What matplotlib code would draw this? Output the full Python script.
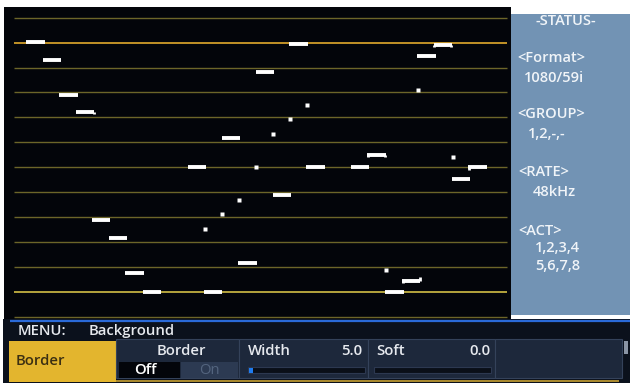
import numpy as np
import matplotlib.pyplot as plt
from matplotlib.patches import Rectangle

plt.rcParams['font.family'] = ['Open Sans', 'DejaVu Sans']

# scope trace: horizontal dashes (centre time, level) and single dots
dash_t = [1.31, 2.31, 3.32, 4.33, 5.29, 6.31, 7.34, 8.38, 11.13, 12.11, 13.19, 14.21,
          15.26, 16.30, 17.32, 18.34, 21.07, 22.05, 23.15, 24.17, 25.10, 26.09, 27.19, 28.21]
dash_lvl = [11.01, 10.29, 8.91, 8.20, 3.88, 3.16, 1.74, 1.00, 6.01, 0.98, 7.17, 2.15,
            9.83, 4.87, 10.94, 6.01, 6.00, 6.50, 0.98, 1.43, 10.46, 10.91, 5.54, 6.00]
# little end ticks on some dashes (level offset at left / right end)
tick_left = [0, 0, 0, 0, 0, 0, 0, 0, 0, 0, 0, 0,
             0, 0, 0, 0, 0, -0.1, 0, -0.09, 0, -0.1, 0, -0.11]
tick_right = [0, 0, 0, -0.08, 0, 0, 0, 0, 0, 0, 0, 0,
              0, 0, 0, 0, 0, -0.1, 0, 0.15, 0, -0.1, 0, 0]
dash_w = 1.12

dot_t = [11.60, 12.66, 13.69, 14.74, 15.78, 16.81, 17.83, 22.62, 24.58, 26.70]
dot_lvl = [3.52, 4.11, 4.67, 6.01, 7.34, 7.93, 8.48, 1.86, 9.10, 6.40]

grid_lvl = np.arange(13)
bright = {11: '#e2aa2c', 1: '#d2bf45'}

status_lines = ["-STATUS-", "<Format>", "1080/59i", "<GROUP>", "1,2,-,-",
                "<RATE>", "48kHz", "<ACT>", "1,2,3,4", "5,6,7,8"]
status_x = [536, 517, 524, 517, 528, 518, 533, 518, 535, 535]
status_y = [21, 58, 78, 114, 134, 172, 192, 231, 248, 266]

W, H = 630, 383
fig = plt.figure(figsize=(6.3, 3.83), dpi=100, facecolor='white')


def px_axes(x0, y0, x1, y1):
    return fig.add_axes([x0 / W, 1 - y1 / H, (x1 - x0) / W, (y1 - y0) / H])


def bare(a):
    a.set_xticks([])
    a.set_yticks([])
    for s in a.spines.values():
        s.set_visible(False)


# scope area
ax = px_axes(4, 7, 511, 319)
ax.set_facecolor('#03050a')
for lv in grid_lvl:
    ax.hlines(lv, 0, 30, color=bright.get(lv, '#6c6529'), lw=1.2 if lv in bright else 1.0)
t = np.array(dash_t)
lv = np.array(dash_lvl)
ax.hlines(lv, t - dash_w / 2, t + dash_w / 2, color='white', lw=2.8)
for ti, li, tl, tr in zip(t, lv, tick_left, tick_right):
    if tl:
        ax.vlines(ti - dash_w / 2 + 0.05, li + tl, li, color='white', lw=2.0)
    if tr:
        ax.vlines(ti + dash_w / 2 - 0.05, li + tr, li, color='white', lw=2.0)
ax.plot(dot_t, dot_lvl, 's', ms=3.0, color='white', mec='none')
ax.set_xlim(-0.609, 30.24)
ax.set_ylim(-0.092, 12.43)
bare(ax)

# status panel
sa = px_axes(511, 14, 630, 315)
sa.set_facecolor('#7293b4')
sa.set_xlim(511, 630)
sa.set_ylim(315, 14)
bare(sa)
for txt, x, y in zip(status_lines, status_x, status_y):
    sa.text(x, y, txt, color='#f0f4f8', fontsize=10.5, va='center', ha='left', weight='semibold')

# menu strip
ma = px_axes(3, 319, 630, 383)
ma.set_facecolor('#0b111c')
ma.set_xlim(3, 630)
ma.set_ylim(383, 319)
bare(ma)
txt_kw = dict(color='#e6e9ee', fontsize=10.7, va='center', weight='semibold')
ma.hlines(320.5, 10, 630, color='#2a6ad8', lw=1.6)
ma.text(18, 331, "MENU:", **txt_kw)
ma.text(89, 331, "Background", **txt_kw)
ma.add_patch(Rectangle((9, 341), 107, 41, fc='#e3b52e', ec='none'))
ma.text(16, 361, "Border", color='#3b2f12', fontsize=10.7, va='center', weight='semibold')
sections = [116, 239, 367.6, 495, 622]
for x0, x1 in zip(sections[:-1], sections[1:]):
    ma.add_patch(Rectangle((x0, 339), x1 - x0, 39, fc='#1d283b', ec='#34425a', lw=0.8))
ma.text(181, 351, "Border", ha='center', **txt_kw)
ma.add_patch(Rectangle((119, 362), 61, 16, fc='#03050a', ec='none'))
ma.text(145, 370, "Off", ha='center', **dict(txt_kw, color='white'))
ma.add_patch(Rectangle((181, 362), 57, 16, fc='#2c3a52', ec='none'))
ma.text(209.5, 370, "On", color='#53647e', fontsize=10.7, va='center', ha='center')
ma.text(248, 351, "Width", **txt_kw)
ma.text(362, 351, "5.0", ha='right', **txt_kw)
ma.text(376, 351, "Soft", **txt_kw)
ma.text(491, 351, "0.0", ha='right', **txt_kw)
for x0 in (248, 374):
    ma.add_patch(Rectangle((x0, 367), 117, 6, fc='#0a0f18', ec='#2c3850', lw=0.8))
ma.add_patch(Rectangle((249, 367.5), 4, 5, fc='#1e7cf0', ec='none'))
ma.hlines(380.5, 116, 619, color='#c9a233', lw=1.2)
ma.add_patch(Rectangle((624, 341), 4, 13, fc='#8a94a4', ec='none'))

fig.savefig("out.png", dpi=100, facecolor=fig.get_facecolor())
